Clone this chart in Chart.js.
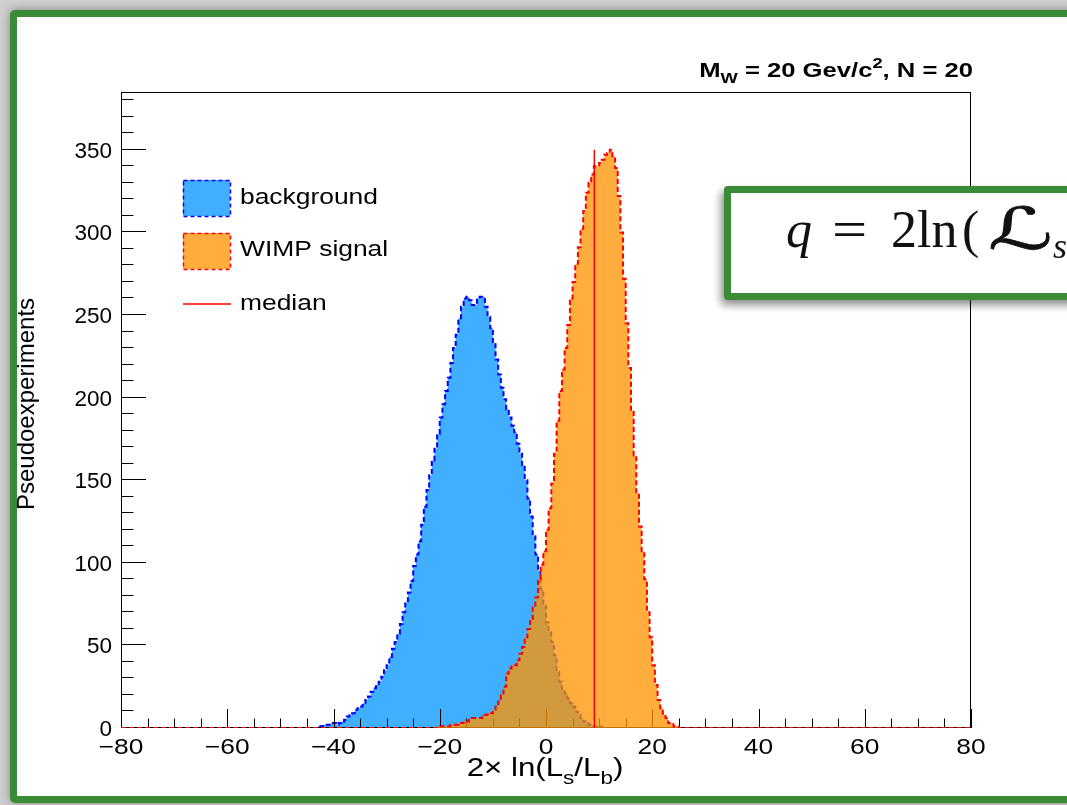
<!DOCTYPE html>
<html>
<head>
<meta charset="utf-8">
<script src="https://cdn.jsdelivr.net/npm/chart.js@4.4.1/dist/chart.umd.min.js"></script>
<style>
html,body{margin:0;padding:0;width:1067px;height:805px;overflow:hidden;background:#cfcfcf;}
#card{position:absolute;left:10px;top:10px;width:1100px;height:793px;background:#fff;border:7px solid #3b8a35;border-radius:5px;box-sizing:border-box;box-shadow:0 0 10px rgba(0,0,0,0.35);}
#cv{position:absolute;left:0;top:0;}
#formula{position:absolute;left:724px;top:186px;width:420px;height:114px;background:#fff;border:7px solid #3b8a35;border-radius:4px;box-sizing:border-box;box-shadow:-3px 5px 9px rgba(0,0,0,0.45);}
.fx{position:absolute;top:204px;font-family:"Liberation Serif","DejaVu Serif",serif;font-size:52px;line-height:52px;color:#111;white-space:nowrap;}
</style>
</head>
<body>
<div id="card"></div>
<canvas id="cv" width="1067" height="805"></canvas>
<div id="formula"></div>
<div class="fx" style="left:786px;font-style:italic;">q</div>
<div class="fx" style="left:832px;transform:scaleX(1.2);transform-origin:left center;">=</div>
<div class="fx" style="left:891px;">2</div>
<div class="fx" style="left:917px;">ln</div>
<div class="fx" style="left:962px;">(</div>
<div class="fx" style="left:988px;top:200px;font-size:58px;line-height:58px;font-family:'DejaVu Serif','DejaVu Sans',serif;transform:scaleX(1.55);transform-origin:left center;-webkit-text-stroke:0.7px #111;">ℒ</div>
<div class="fx" style="left:1053px;top:228px;font-size:36px;line-height:36px;font-style:italic;">s</div>
<script>
// ---------------- data ----------------
const BIN_WIDTH = 0.5;
const X_MIN = -80, X_MAX = 80, Y_MAX = 385;

// background histogram: counts per bin (bin width 0.5), first bin starts at bgStart
const bgStart = -43;
const bgCounts = [
  1,1,2,2,2,3,3,2,3,4,            // -43.0 .. -38.5
  5,7,8,9,11,12,13,15,17,19,      // -38.0 .. -33.5
  22,24,26,28,31,35,38,43,48,52,  // -33.0 .. -28.5
  57,63,70,76,82,89,98,105,113,123, // -28.0 .. -23.5
  134,144,153,162,169,178,188,196,204,212, // -23.0 .. -18.5
  221,230,238,248,255,260,261,259,256,256, // -18.0 .. -13.5
  260,261,261,255,249,242,233,223,214,206, // -13.0 .. -8.5
  199,193,188,183,179,172,166,159,150,139, // -8.0 .. -3.5
  128,116,105,95,84,74,64,58,52,44,        // -3.0 .. 1.5
  34,28,23,21,18,15,13,10,8,6,             // 2.0 .. 6.5
  4,3,2,1,1,1,1                            // 7.0 .. 10.0
];

// WIMP signal histogram (bin width 0.5)
const sigStart = -21;
const sigCounts = [
  0,1,1,1,1,1,2,2,2,3,             // -21.0 .. -16.5
  3,4,4,5,6,6,6,6,7,8,             // -16.0 .. -11.5
  9,9,11,13,16,20,25,33,36,38,     // -11.0 .. -6.5
  38,41,45,49,55,60,66,73,79,90,   // -6.0 .. -1.5
  99,107,120,133,148,166,186,204,217,230, // -1.0 .. 3.5
  244,260,270,281,291,302,313,324,330,335, // 4.0 .. 8.5
  340,340,342,344,347,348,350,346,339,322, // 9.0 .. 13.5
  300,272,245,218,192,165,142,122,107,90,  // 14.0 .. 18.5
  70,55,38,26,17,12,8,6,3,3,               // 19.0 .. 23.5
  1,1                                      // 24.0 .. 24.5
];

// median of the signal distribution
const medianValue = 9.1;
const medianHeight = 350;

const seriesNames = ['background', 'WIMP signal', 'median'];
const xTickValues = [-80,-60,-40,-20,0,20,40,60,80];
const xTickLabels = ['\u221280','\u221260','\u221240','\u221220','0','20','40','60','80'];
const yTickValues = [0,50,100,150,200,250,300,350];
const yTickLabels = ['0','50','100','150','200','250','300','350'];

// ---------------- style ----------------
const BLUE_FILL = '#41afff';
const BLUE_LINE = '#0000ff';
const SIG_FILL = 'rgba(255,148,0,0.76)';
const RED_LINE = '#ff0000';
const FONT = '"Liberation Sans", Arial, Helvetica, sans-serif';
const SX = 1.2; // horizontal stretch of the ROOT text

function histPoints(start, counts) {
  const pts = [];
  const nBins = Math.round((X_MAX - X_MIN) / BIN_WIDTH);
  const off = Math.round((start - X_MIN) / BIN_WIDTH);
  for (let k = 0; k < nBins; k++) {
    const i = k - off;
    const v = (i >= 0 && i < counts.length) ? counts[i] : 0;
    pts.push({x: X_MIN + k * BIN_WIDTH, y: v});
  }
  pts.push({x: X_MAX, y: 0});
  return pts;
}

function richText(ctx, parts, x, y, align, sx, bold) {
  let w = 0;
  parts.forEach(p => {
    ctx.font = (bold ? 'bold ' : '') + p.size + 'px ' + FONT;
    p.w = ctx.measureText(p.t).width + (p.gap || 0);
    w += p.w;
  });
  ctx.save();
  ctx.translate(x, y);
  ctx.scale(sx, 1);
  let cx = align === 'right' ? -w : (align === 'center' ? -w / 2 : 0);
  ctx.textAlign = 'left';
  ctx.textBaseline = 'alphabetic';
  parts.forEach(p => {
    ctx.font = (bold ? 'bold ' : '') + p.size + 'px ' + FONT;
    ctx.fillText(p.t, cx, p.dy || 0);
    cx += p.w;
  });
  ctx.restore();
}

function drawFrameAndTicks(chart) {
  const {ctx, chartArea: a, scales: {x, y}} = chart;
  ctx.save();
  ctx.strokeStyle = '#000';
  ctx.lineWidth = 1;
  ctx.strokeRect(Math.round(a.left) + 0.5, Math.round(a.top) + 0.5,
                 Math.round(a.right - a.left) - 1, Math.round(a.bottom - a.top) - 1);
  ctx.beginPath();
  for (let v = X_MIN; v <= X_MAX; v += 5) {
    const px = Math.round(x.getPixelForValue(v)) + 0.5;
    const len = (v % 20 === 0) ? 19 : 9.5;
    ctx.moveTo(px, a.bottom);
    ctx.lineTo(px, a.bottom - len);
  }
  for (let v = 0; v <= 380; v += 10) {
    const py = Math.round(y.getPixelForValue(v)) - 0.5;
    const len = (v % 50 === 0) ? 25 : 12.5;
    ctx.moveTo(a.left, py);
    ctx.lineTo(a.left + len, py);
  }
  ctx.stroke();
  ctx.restore();
}

function drawTexts(chart) {
  const {ctx, scales: {x, y}} = chart;
  ctx.save();
  ctx.fillStyle = '#000';
  xTickValues.forEach((v, i) => {
    richText(ctx, [{t: xTickLabels[i], size: 22}], x.getPixelForValue(v), 754, 'center', SX, false);
  });
  yTickValues.forEach((v, i) => {
    richText(ctx, [{t: yTickLabels[i], size: 22.5}], 112, y.getPixelForValue(v) + 8, 'right', 1.0, false);
  });
  richText(ctx, [
    {t: '2\u00d7 ln(L', size: 25},
    {t: 's', size: 18, dy: 8},
    {t: '/L', size: 25},
    {t: 'b', size: 18, dy: 8},
    {t: ')', size: 25}
  ], 545, 776, 'center', 1.25, false);
  ctx.save();
  ctx.translate(34, 404);
  ctx.rotate(-Math.PI / 2);
  ctx.font = '24px ' + FONT;
  ctx.textAlign = 'center';
  ctx.textBaseline = 'alphabetic';
  ctx.fillText('Pseudoexperiments', 0, 0);
  ctx.restore();
  richText(ctx, [
    {t: 'M', size: 21},
    {t: 'W', size: 15, dy: 6},
    {t: ' = 20 Gev/c', size: 21},
    {t: '2', size: 15, dy: -9},
    {t: ', N = 20', size: 21}
  ], 973, 77, 'right', 1.22, true);
  ctx.restore();
}

function drawLegend(chart) {
  const ctx = chart.ctx;
  ctx.save();
  ctx.fillStyle = BLUE_FILL;
  ctx.fillRect(183, 180, 47, 36);
  ctx.setLineDash([4, 3]);
  ctx.lineWidth = 1.5;
  ctx.strokeStyle = BLUE_LINE;
  ctx.strokeRect(183.5, 180.5, 47, 36);
  ctx.fillStyle = SIG_FILL;
  ctx.fillRect(183, 233, 47, 36);
  ctx.strokeStyle = RED_LINE;
  ctx.strokeRect(183.5, 233.5, 47, 36);
  ctx.setLineDash([]);
  ctx.strokeStyle = RED_LINE;
  ctx.lineWidth = 1.5;
  ctx.beginPath();
  ctx.moveTo(183, 304);
  ctx.lineTo(231, 304);
  ctx.stroke();
  ctx.fillStyle = '#000';
  richText(ctx, [{t: seriesNames[0], size: 22}], 240, 204, 'left', SX, false);
  richText(ctx, [{t: seriesNames[1], size: 22}], 240, 256, 'left', SX, false);
  richText(ctx, [{t: seriesNames[2], size: 22}], 240, 310, 'left', SX, false);
  ctx.restore();
}

const rootStyle = {
  id: 'rootStyle',
  afterDatasetDraw(chart, args) {
    if (args.index === 0) drawFrameAndTicks(chart);
  },
  afterDraw(chart) {
    drawTexts(chart);
    drawLegend(chart);
  }
};

new Chart(document.getElementById('cv').getContext('2d'), {
  type: 'line',
  data: {
    datasets: [
      {
        label: seriesNames[0],
        data: histPoints(bgStart, bgCounts),
        stepped: true,
        fill: 'origin',
        backgroundColor: BLUE_FILL,
        borderColor: BLUE_LINE,
        borderWidth: 2,
        borderDash: [5, 3],
        pointRadius: 0,
        order: 3
      },
      {
        label: seriesNames[1],
        data: histPoints(sigStart, sigCounts),
        stepped: true,
        fill: 'origin',
        backgroundColor: SIG_FILL,
        borderColor: RED_LINE,
        borderWidth: 2,
        borderDash: [5, 3],
        pointRadius: 0,
        order: 2
      },
      {
        label: seriesNames[2],
        data: [{x: medianValue, y: 0}, {x: medianValue, y: medianHeight}],
        borderColor: RED_LINE,
        borderWidth: 1.5,
        fill: false,
        pointRadius: 0,
        order: 1
      }
    ]
  },
  options: {
    responsive: false,
    animation: false,
    devicePixelRatio: 1,
    layout: {padding: {left: 121, right: 96, top: 92, bottom: 77}},
    scales: {
      x: {type: 'linear', min: X_MIN, max: X_MAX, display: false},
      y: {type: 'linear', min: 0, max: Y_MAX, display: false}
    },
    plugins: {legend: {display: false}, tooltip: {enabled: false}},
    elements: {line: {tension: 0}}
  },
  plugins: [rootStyle]
});
</script>
</body>
</html>
